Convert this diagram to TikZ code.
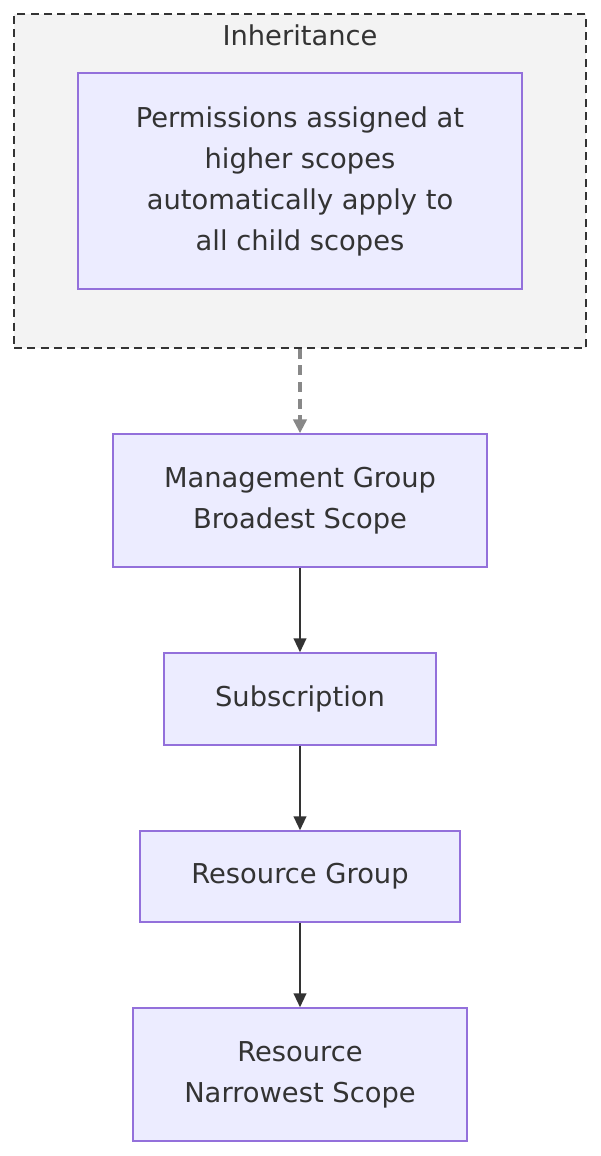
\documentclass[tikz,border=0pt]{standalone}
\usepackage{fontspec}
\setmainfont{DejaVu Sans}
\usetikzlibrary{arrows.meta}
\definecolor{nodefill}{HTML}{ECECFF}
\definecolor{nodeline}{HTML}{9370DB}
\definecolor{txt}{HTML}{333333}
\definecolor{clusterfill}{HTML}{F3F3F3}
\definecolor{dashgray}{HTML}{888888}
\begin{document}
\begin{tikzpicture}[
  x=0.75pt, y=-0.75pt,
  scopebox/.style = {draw=nodeline, fill=nodefill, line width=1.1pt, text=txt,
    align=center, inner sep=0pt, font=\fontsize{20.5}{30.75}\selectfont},
  flow/.style = {-{Triangle[length=10.5pt,width=9.5pt]}, txt, line width=1.5pt},
  hint/.style = {-{Triangle[length=10.5pt,width=10pt]}, dashgray, line width=2.6pt,
    dash pattern=on 7.5pt off 5pt}]
  \useasboundingbox[fill=white] (0,0) rectangle (600,1156);

  % skupina dedenia
  \node[draw=txt, fill=clusterfill, line width=1.1pt, dash pattern=on 6pt off 4pt,
    minimum width=429pt, minimum height=250.5pt, inner sep=0pt] (inherit) at (300,181) {};
  \node[text=txt, font=\fontsize{20.5}{24}\selectfont] (inherittitle) at (300,35) {Inheritance};
  \node[scopebox, minimum width=333pt, minimum height=162pt] (perm) at (300,181)
    {Permissions assigned at\\ higher scopes\\ automatically apply to\\ all child scopes};

  % hierarchia rozsahov
  \node[scopebox, minimum width=280.5pt, minimum height=99.75pt] (mg) at (300,500.5)
    {Management Group\\ Broadest Scope};
  \node[scopebox, minimum width=204pt, minimum height=69pt] (sub) at (300,699)
    {Subscription};
  \node[scopebox, minimum width=240pt, minimum height=68.25pt] (rg) at (300,876.5)
    {Resource Group};
  \node[scopebox, minimum width=250.5pt, minimum height=99.75pt] (res) at (300,1074.5)
    {Resource\\ Narrowest Scope};

  % spojenia
  \draw[hint] (inherit.south) -- (mg.north);
  \draw[flow] (mg) -- (sub);
  \draw[flow] (sub) -- (rg);
  \draw[flow] (rg) -- (res);
\end{tikzpicture}
\end{document}
